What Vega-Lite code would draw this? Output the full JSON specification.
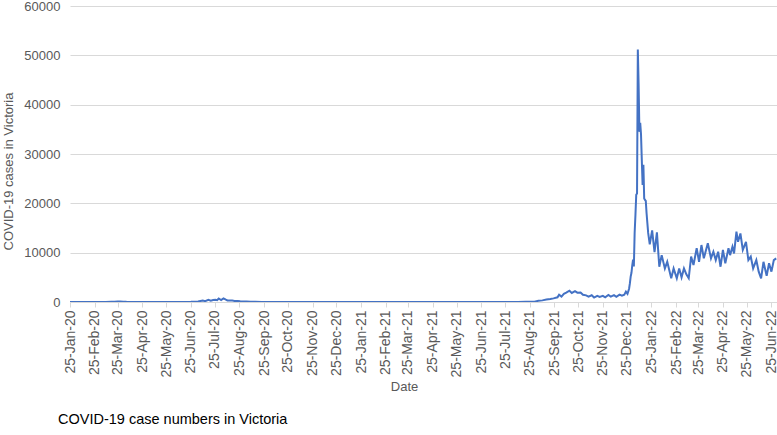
{
  "$schema": "https://vega.github.io/schema/vega-lite/v6.json",
  "width": 707,
  "height": 296,
  "autosize": {"type": "none"},
  "padding": {"left": 70, "top": 6, "right": 0, "bottom": 133},
  "background": "white",
  "config": {"view": {"stroke": null}, "font": "Liberation Sans"},
  "title": {
    "text": "COVID-19 case numbers in Victoria",
    "orient": "bottom",
    "anchor": "start",
    "frame": "group",
    "dx": -12,
    "offset": 19,
    "fontSize": 14.5,
    "fontWeight": "normal",
    "color": "#000000",
    "font": "Liberation Sans"
  },
  "data": {
    "values": [
      {"date": "2020-01-25", "cases": 0},
      {"date": "2020-02-10", "cases": 0},
      {"date": "2020-03-01", "cases": 1},
      {"date": "2020-03-10", "cases": 4},
      {"date": "2020-03-17", "cases": 50},
      {"date": "2020-03-21", "cases": 65},
      {"date": "2020-03-25", "cases": 100},
      {"date": "2020-03-28", "cases": 110},
      {"date": "2020-04-01", "cases": 70},
      {"date": "2020-04-05", "cases": 30},
      {"date": "2020-04-12", "cases": 10},
      {"date": "2020-04-25", "cases": 5},
      {"date": "2020-05-05", "cases": 15},
      {"date": "2020-05-15", "cases": 10},
      {"date": "2020-05-30", "cases": 5},
      {"date": "2020-06-10", "cases": 10},
      {"date": "2020-06-20", "cases": 25},
      {"date": "2020-06-25", "cases": 35},
      {"date": "2020-06-30", "cases": 70},
      {"date": "2020-07-04", "cases": 100},
      {"date": "2020-07-07", "cases": 190},
      {"date": "2020-07-10", "cases": 280},
      {"date": "2020-07-13", "cases": 170},
      {"date": "2020-07-17", "cases": 430},
      {"date": "2020-07-20", "cases": 270},
      {"date": "2020-07-23", "cases": 400},
      {"date": "2020-07-26", "cases": 460},
      {"date": "2020-07-28", "cases": 380},
      {"date": "2020-07-30", "cases": 720},
      {"date": "2020-08-02", "cases": 400},
      {"date": "2020-08-05", "cases": 725},
      {"date": "2020-08-08", "cases": 470},
      {"date": "2020-08-10", "cases": 320},
      {"date": "2020-08-13", "cases": 280},
      {"date": "2020-08-16", "cases": 280},
      {"date": "2020-08-19", "cases": 220},
      {"date": "2020-08-23", "cases": 210},
      {"date": "2020-08-26", "cases": 150},
      {"date": "2020-08-30", "cases": 110},
      {"date": "2020-09-03", "cases": 80},
      {"date": "2020-09-08", "cases": 50},
      {"date": "2020-09-14", "cases": 30},
      {"date": "2020-09-22", "cases": 15},
      {"date": "2020-10-01", "cases": 10},
      {"date": "2020-10-15", "cases": 2},
      {"date": "2020-11-01", "cases": 1},
      {"date": "2020-12-01", "cases": 0},
      {"date": "2021-01-01", "cases": 3},
      {"date": "2021-02-15", "cases": 2},
      {"date": "2021-03-01", "cases": 0},
      {"date": "2021-04-01", "cases": 0},
      {"date": "2021-05-28", "cases": 10},
      {"date": "2021-06-10", "cases": 5},
      {"date": "2021-07-01", "cases": 2},
      {"date": "2021-07-15", "cases": 10},
      {"date": "2021-07-25", "cases": 5},
      {"date": "2021-08-05", "cases": 10},
      {"date": "2021-08-10", "cases": 20},
      {"date": "2021-08-20", "cases": 60},
      {"date": "2021-08-25", "cases": 45},
      {"date": "2021-08-31", "cases": 76},
      {"date": "2021-09-05", "cases": 250},
      {"date": "2021-09-10", "cases": 330},
      {"date": "2021-09-15", "cases": 500},
      {"date": "2021-09-20", "cases": 600},
      {"date": "2021-09-24", "cases": 730},
      {"date": "2021-09-29", "cases": 950},
      {"date": "2021-10-01", "cases": 1490},
      {"date": "2021-10-04", "cases": 1100},
      {"date": "2021-10-07", "cases": 1640},
      {"date": "2021-10-10", "cases": 1890},
      {"date": "2021-10-14", "cases": 2300},
      {"date": "2021-10-17", "cases": 1840},
      {"date": "2021-10-21", "cases": 2190},
      {"date": "2021-10-24", "cases": 1900},
      {"date": "2021-10-28", "cases": 1920},
      {"date": "2021-10-31", "cases": 1470},
      {"date": "2021-11-04", "cases": 1340},
      {"date": "2021-11-07", "cases": 1090},
      {"date": "2021-11-11", "cases": 1360},
      {"date": "2021-11-14", "cases": 900},
      {"date": "2021-11-18", "cases": 1250},
      {"date": "2021-11-21", "cases": 1030},
      {"date": "2021-11-25", "cases": 1250},
      {"date": "2021-11-28", "cases": 940},
      {"date": "2021-12-02", "cases": 1420},
      {"date": "2021-12-05", "cases": 1100},
      {"date": "2021-12-09", "cases": 1400},
      {"date": "2021-12-12", "cases": 1050},
      {"date": "2021-12-16", "cases": 1500},
      {"date": "2021-12-19", "cases": 1300},
      {"date": "2021-12-22", "cases": 1500},
      {"date": "2021-12-24", "cases": 2100},
      {"date": "2021-12-26", "cases": 1650},
      {"date": "2021-12-28", "cases": 2700},
      {"date": "2021-12-29", "cases": 3770},
      {"date": "2021-12-30", "cases": 5140},
      {"date": "2021-12-31", "cases": 5920},
      {"date": "2022-01-01", "cases": 7440},
      {"date": "2022-01-02", "cases": 8580},
      {"date": "2022-01-03", "cases": 7200},
      {"date": "2022-01-04", "cases": 14020},
      {"date": "2022-01-05", "cases": 17640},
      {"date": "2022-01-06", "cases": 21730},
      {"date": "2022-01-07", "cases": 22000},
      {"date": "2022-01-08", "cases": 51200},
      {"date": "2022-01-09", "cases": 44000},
      {"date": "2022-01-10", "cases": 34500},
      {"date": "2022-01-11", "cases": 36300},
      {"date": "2022-01-12", "cases": 34000},
      {"date": "2022-01-13", "cases": 28800},
      {"date": "2022-01-14", "cases": 23700},
      {"date": "2022-01-15", "cases": 27800},
      {"date": "2022-01-16", "cases": 21000},
      {"date": "2022-01-17", "cases": 20700},
      {"date": "2022-01-18", "cases": 20500},
      {"date": "2022-01-19", "cases": 18000},
      {"date": "2022-01-20", "cases": 16000},
      {"date": "2022-01-21", "cases": 14000},
      {"date": "2022-01-23", "cases": 11700},
      {"date": "2022-01-26", "cases": 14500},
      {"date": "2022-01-29", "cases": 10100},
      {"date": "2022-02-01", "cases": 14100},
      {"date": "2022-02-04", "cases": 7150},
      {"date": "2022-02-07", "cases": 9500},
      {"date": "2022-02-11", "cases": 6800},
      {"date": "2022-02-14", "cases": 8150},
      {"date": "2022-02-19", "cases": 4800},
      {"date": "2022-02-22", "cases": 6800},
      {"date": "2022-02-26", "cases": 4800},
      {"date": "2022-03-01", "cases": 6800},
      {"date": "2022-03-04", "cases": 5000},
      {"date": "2022-03-07", "cases": 6800},
      {"date": "2022-03-10", "cases": 5600},
      {"date": "2022-03-13", "cases": 4800},
      {"date": "2022-03-16", "cases": 9200},
      {"date": "2022-03-19", "cases": 7500},
      {"date": "2022-03-23", "cases": 10900},
      {"date": "2022-03-26", "cases": 8150},
      {"date": "2022-03-29", "cases": 11550},
      {"date": "2022-04-01", "cases": 8850},
      {"date": "2022-04-06", "cases": 11900},
      {"date": "2022-04-10", "cases": 8850},
      {"date": "2022-04-13", "cases": 10200},
      {"date": "2022-04-16", "cases": 8500},
      {"date": "2022-04-19", "cases": 10200},
      {"date": "2022-04-22", "cases": 7150},
      {"date": "2022-04-25", "cases": 10550},
      {"date": "2022-04-28", "cases": 7850},
      {"date": "2022-05-02", "cases": 10900},
      {"date": "2022-05-04", "cases": 9500},
      {"date": "2022-05-07", "cases": 11200},
      {"date": "2022-05-09", "cases": 9850},
      {"date": "2022-05-12", "cases": 14250},
      {"date": "2022-05-14", "cases": 12200},
      {"date": "2022-05-17", "cases": 13900},
      {"date": "2022-05-20", "cases": 10550},
      {"date": "2022-05-24", "cases": 12200},
      {"date": "2022-05-27", "cases": 8500},
      {"date": "2022-05-30", "cases": 9200},
      {"date": "2022-06-02", "cases": 6800},
      {"date": "2022-06-06", "cases": 8500},
      {"date": "2022-06-09", "cases": 6150},
      {"date": "2022-06-12", "cases": 4800},
      {"date": "2022-06-15", "cases": 8150},
      {"date": "2022-06-19", "cases": 5300},
      {"date": "2022-06-22", "cases": 7850},
      {"date": "2022-06-25", "cases": 6150},
      {"date": "2022-06-28", "cases": 8500},
      {"date": "2022-07-01", "cases": 8850}
    ]
  },
  "mark": {"type": "line", "color": "#4472C4", "strokeWidth": 2, "clip": true},
  "encoding": {
    "x": {
      "field": "date",
      "type": "temporal",
      "scale": {
        "type": "utc",
        "domain": [
          {"year": 2020, "month": 1, "date": 25, "utc": true},
          {"year": 2022, "month": 7, "date": 2, "utc": true}
        ]
      },
      "axis": {
        "values": [
          {"year": 2020, "month": 1, "date": 25, "utc": true},
          {"year": 2020, "month": 2, "date": 25, "utc": true},
          {"year": 2020, "month": 3, "date": 25, "utc": true},
          {"year": 2020, "month": 4, "date": 25, "utc": true},
          {"year": 2020, "month": 5, "date": 25, "utc": true},
          {"year": 2020, "month": 6, "date": 25, "utc": true},
          {"year": 2020, "month": 7, "date": 25, "utc": true},
          {"year": 2020, "month": 8, "date": 25, "utc": true},
          {"year": 2020, "month": 9, "date": 25, "utc": true},
          {"year": 2020, "month": 10, "date": 25, "utc": true},
          {"year": 2020, "month": 11, "date": 25, "utc": true},
          {"year": 2020, "month": 12, "date": 25, "utc": true},
          {"year": 2021, "month": 1, "date": 25, "utc": true},
          {"year": 2021, "month": 2, "date": 25, "utc": true},
          {"year": 2021, "month": 3, "date": 25, "utc": true},
          {"year": 2021, "month": 4, "date": 25, "utc": true},
          {"year": 2021, "month": 5, "date": 25, "utc": true},
          {"year": 2021, "month": 6, "date": 25, "utc": true},
          {"year": 2021, "month": 7, "date": 25, "utc": true},
          {"year": 2021, "month": 8, "date": 25, "utc": true},
          {"year": 2021, "month": 9, "date": 25, "utc": true},
          {"year": 2021, "month": 10, "date": 25, "utc": true},
          {"year": 2021, "month": 11, "date": 25, "utc": true},
          {"year": 2021, "month": 12, "date": 25, "utc": true},
          {"year": 2022, "month": 1, "date": 25, "utc": true},
          {"year": 2022, "month": 2, "date": 25, "utc": true},
          {"year": 2022, "month": 3, "date": 25, "utc": true},
          {"year": 2022, "month": 4, "date": 25, "utc": true},
          {"year": 2022, "month": 5, "date": 25, "utc": true},
          {"year": 2022, "month": 6, "date": 25, "utc": true}
        ],
        "labelExpr": "utcFormat(datum.value, '%d-%b-%y')",
        "labelAngle": -90,
        "labelFontSize": 14,
        "labelColor": "#595959",
        "labelFont": "Liberation Sans",
        "labelOverlap": false,
        "labelFlush": false,
        "labelBound": false,
        "labelPadding": 3,
        "tickColor": "#d9d9d9",
        "tickSize": 5,
        "domainColor": "#d9d9d9",
        "grid": false,
        "title": "Date",
        "titleFont": "Liberation Sans",
        "titleFontSize": 13,
        "titleFontWeight": "normal",
        "titleColor": "#595959",
        "titlePadding": 4,
        "titleX": 334
      }
    },
    "y": {
      "field": "cases",
      "type": "quantitative",
      "scale": {"domain": [0, 60000], "nice": false},
      "axis": {
        "values": [0, 10000, 20000, 30000, 40000, 50000, 60000],
        "format": "d",
        "labelFontSize": 13,
        "labelColor": "#595959",
        "labelFont": "Liberation Sans",
        "labelPadding": 10,
        "ticks": false,
        "domain": false,
        "gridColor": "#d9d9d9",
        "title": "COVID-19 cases in Victoria",
        "titleFont": "Liberation Sans",
        "titleFontSize": 13,
        "titleFontWeight": "normal",
        "titleColor": "#595959",
        "titleX": -62,
        "titleY": 165,
        "titleBaseline": "middle",
        "titleAlign": "center"
      }
    }
  }
}
